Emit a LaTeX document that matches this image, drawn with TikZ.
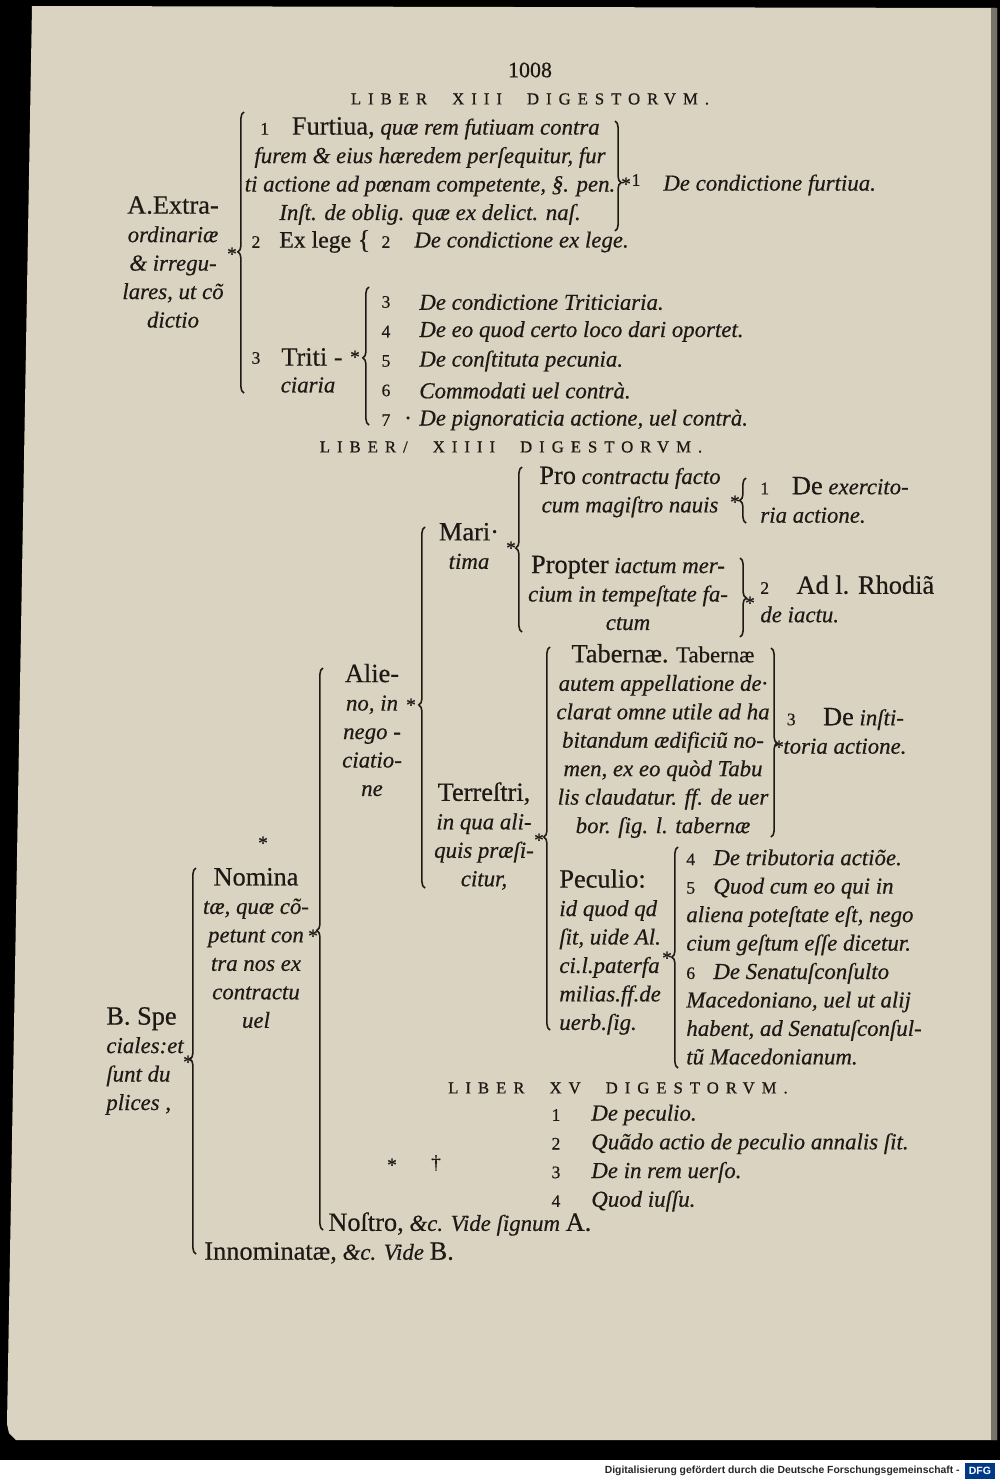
\documentclass[tikz,border=0pt]{standalone}
\usepackage{fontspec}
\setmainfont{Liberation Serif}[FakeBold=0.5]
\newfontfamily\capsfont[LetterSpace=42,FakeBold=0.8]{Liberation Serif}
\newfontfamily\footfont{Liberation Sans}
\usetikzlibrary{decorations.pathreplacing}
\definecolor{paper}{RGB}{219,211,193}
\definecolor{ink}{RGB}{30,25,21}
\definecolor{dfgblue}{RGB}{0,58,135}
\newcommand{\rmw}[1]{{\upshape\fontsize{15}{16.2}\selectfont #1}}
\newcommand{\nr}[1]{{\upshape\fontsize{10}{16.2}\selectfont #1}}

\begin{document}
\begin{tikzpicture}[x=0.02cm,y=-0.02cm,
    txt/.style={inner sep=0pt,text=ink,align=center,font=\fontsize{13}{16.2}\selectfont\itshape},
    num/.style={inner sep=0pt,text=ink,font=\fontsize{10}{12}\selectfont},
    hd/.style={inner sep=0pt,text=ink,font=\capsfont\fontsize{9.5}{10}\selectfont},
    star/.style={inner sep=0pt,text=ink,font=\fontsize{11}{12}\selectfont},
    brc/.style={draw=ink,line width=0.9pt,decorate,decoration={brace,amplitude=3.5pt,aspect=#1}}]
  \useasboundingbox (0,0) rectangle (1000,1481);
  % Scan
  \fill[black] (0,0) rectangle (1000,1460);
  \fill[white] (0,1460) rectangle (1000,1481);
  \fill[paper] (32,6) -- (997,8) -- (997,1440) -- (16,1440) -- (9,1433) -- (7,1424) -- cycle;
  \fill[black!45!paper] (991,8) rectangle (997,1440);

  % Liber XIII
  \node[num,font=\fontsize{12.5}{14}\selectfont] (pgno) at (530,70) {1008};
  \node[hd] (libA) at (530,99) {LIBER\hspace{1.5em}XIII\hspace{1.5em}DIGESTORVM.};
  \node[txt] (lblA) at (173,262) {\rmw{A.Extra-}\\ordinariæ\\\& irregu-\\lares, ut cõ\\dictio};
  \node[txt] (furt) at (430,171) {\nr{1}\hspace{1em}\rmw{Furtiua,} quæ rem futiuam contra\\furem \& eius hæredem perſequitur, fur\\ti actione ad pœnam competente, §. pen.\\Inſt. de oblig. quæ ex delict. naſ.};
  \node[num] (furtn) at (636,180) {1};
  \node[txt,anchor=west] (furtR) at (663,185) {De condictione furtiua.};
  \node[num] (exln) at (256,242) {2};
  \node[txt,anchor=west] (exl) at (279,242) {{\upshape\fontsize{13.5}{16.2}\selectfont Ex lege}};
  \node[txt,font=\fontsize{15}{16}\selectfont] (exlb) at (364,241) {\{};
  \node[num] (exlRn) at (386,242) {2};
  \node[txt,anchor=west] (exlR) at (414,242) {De condictione ex lege.};
  \node[num] (tritn) at (256,358) {3};
  \node[txt,anchor=west] (trit) at (281,357) {\rmw{Triti -}};
  \node[txt] (trit2) at (308,385) {ciaria};
  \foreach \n/\t [count=\k from 0] in {3/De condictione Triticiaria., 4/De eo quod certo loco dari oportet., 5/De conſtituta pecunia., 6/Commodati uel contrà., 7/{\llap{·\hspace{5pt}}De pignoraticia actione, uel contrà.}} {
    \node[num] (tn\n) at (386,302+29.5*\k) {\n};
    \node[txt,anchor=west] (tt\n) at (419,302+29.5*\k) {\t};
  }
  % Braces
  \draw[brc=0.502] (244,393) -- (244,112);
  \draw[brc=0.56] (615,121) -- (615,231);
  \draw[brc=0.486] (369,425) -- (369,287);

  % Liber XIIII
  \node[hd] (libB) at (511,447) {LIBER/\hspace{1.5em}XIIII\hspace{1.5em}DIGESTORVM.};
  \node[txt] (pro) at (630,492) {\rmw{Pro} contractu facto\\cum magiſtro nauis};
  \node[txt,anchor=west,align=left] (proR) at (760,500) {\nr{1}\hspace{1em}\rmw{De} exercito-\\ria actione.};
  \node[txt] (mari) at (469,546) {\rmw{Mari·}\\tima};
  \node[txt] (prop) at (628,593) {\rmw{Propter} iactum mer-\\cium in tempeſtate fa-\\ctum};
  \node[txt,anchor=west,align=left] (propR) at (760,599) {\nr{2}\hspace{1.2em}\rmw{Ad l. Rhodiã}\\de iactu.};
  \node[txt] (alie) at (372,730) {\rmw{Alie-}\\no, in\\nego -\\ciatio-\\ne};
  \node[txt] (tab) at (663,741) {\rmw{Tabernæ.} {\upshape Tabernæ}\\autem appellatione de·\\clarat omne utile ad ha\\bitandum ædificiũ no-\\men, ex eo quòd Tabu\\lis claudatur. ff. de uer\\bor. ſig. l. tabernæ};
  \node[txt,anchor=west,align=left] (tabR) at (783,731) {\hspace{2pt}\nr{3}\hspace{1.2em}\rmw{De} inſti-\\toria actione.};
  \node[txt] (terr) at (484,836) {\rmw{Terreſtri,}\\in qua ali-\\quis præſi-\\citur,};
  \node[txt,anchor=west,align=left] (pec) at (559,952) {\rmw{Peculio:}\\id quod qd\\ſit, uide Al.\\ci.l.paterfa\\milias.ff.de\\uerb.ſig.};
  \node[txt,anchor=west,align=left] (pecR) at (686,957) {\nr{4}\hspace{0.8em}De tributoria actiõe.\\\nr{5}\hspace{0.8em}Quod cum eo qui in\\aliena poteſtate eſt, nego\\cium geſtum eſſe dicetur.\\\nr{6}\hspace{0.8em}De Senatuſconſulto\\Macedoniano, uel ut alij\\habent, ad Senatuſconſul-\\tũ Macedonianum.};
  \node[txt] (nom) at (256,948) {\rmw{Nomina}\\tæ, quæ cõ-\\petunt con\\tra nos ex\\contractu\\uel};
  \node[txt,anchor=west,align=left] (lblB) at (106,1061) {\rmw{B. Spe}\\ciales:et\\ſunt du\\plices ,};
  % Braces
  \draw[brc=0.505] (196,1254) -- (196,868);
  \draw[brc=0.533] (323,1230) -- (323,668);
  \draw[brc=0.507] (425,888) -- (425,527);
  \draw[brc=0.509] (522,632) -- (522,467);
  \draw[brc=0.5] (746,523) -- (746,478);
  \draw[brc=0.506] (740,558) -- (740,637);
  \draw[brc=0.504] (550,1030) -- (550,647);
  \draw[brc=0.503] (771,648) -- (771,837);
  \draw[brc=0.502] (678,1068) -- (678,847);

  % Liber XV
  \node[hd] (libC) at (618,1088) {LIBER\hspace{1.5em}XV\hspace{1.5em}DIGESTORVM.};
  \foreach \n/\t [count=\k from 0] in {1/De peculio., 2/Quãdo actio de peculio annalis ſit., 3/De in rem uerſo., 4/Quod iuſſu.} {
    \node[num] (xn\n) at (556,1115+28.7*\k) {\n};
    \node[txt,anchor=west] (xt\n) at (591,1115+28.7*\k) {\t};
  }
  \node[txt,anchor=west] (nost) at (328,1224) {\rmw{Noſtro,} \&c. Vide ſignum \rmw{A.}};
  \node[txt,anchor=west] (innom) at (204,1253) {\rmw{Innominatæ,} \&c. Vide \rmw{B.}};

  % Marks
  \foreach \x/\y [count=\i] in {232/254, 626/184, 355/357, 511/548, 735/502, 750/603, 411/705, 779/747, 539/840, 667/958, 313/936, 263/843, 188/1062, 392/1165}
    \node[star] (st\i) at (\x,\y) {*};
  \node[star] (dag) at (436,1163) {†};

  % Footer
  \node[inner sep=0pt,anchor=east,text=black!85,font=\footfont\bfseries\fontsize{5.9}{7}\selectfont] (foot) at (960,1471) {Digitalisierung gefördert durch die Deutsche Forschungsgemeinschaft -};
  \node[fill=dfgblue,text=white,inner sep=0pt,minimum width=0.6cm,minimum height=0.32cm,font=\footfont\bfseries\fontsize{6}{7}\selectfont] (dfg) at (980,1471) {DFG};
\end{tikzpicture}
\end{document}
